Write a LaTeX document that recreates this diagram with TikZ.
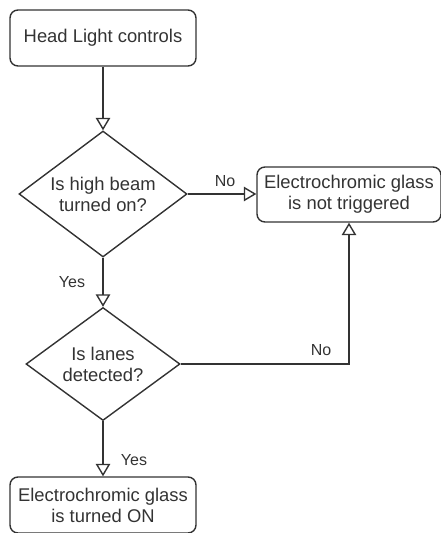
\documentclass[tikz,border=0pt]{standalone}
\usepackage{fontspec}
\setmainfont{Liberation Sans}
\usetikzlibrary{shapes.geometric,arrows.meta}
\definecolor{ink}{HTML}{333333}
\begin{document}
\begin{tikzpicture}[x=1pt,y=-1pt,
  every node/.style={text=ink},
  procbox/.style={draw=ink, line width=1.4pt, rounded corners=8pt, align=center,
     minimum width=186pt, minimum height=56pt, inner sep=0pt,
     font=\fontsize{18.4}{21}\selectfont},
  decbox/.style={draw=ink, line width=1.4pt, diamond, align=center, inner sep=0pt,
     font=\fontsize{18.4}{21}\selectfont},
  lbl/.style={inner sep=0pt, font=\fontsize{16}{18}\selectfont},
  conn/.style={draw=ink, line width=1.4pt, -{Triangle[open, length=12.5pt, width=14.5pt]}}
]
\useasboundingbox (0,0) rectangle (441,533);
\node[procbox] (top) at (103,38) {Head Light controls};
\node[decbox, shape aspect=1.333, minimum width=168pt, minimum height=126pt] (d1) at (103,194) {Is high beam\\turned on?};
\node[procbox, minimum width=184pt, minimum height=55pt] (rb) at (349,194.5) {Electrochromic glass\\is not triggered};
\node[decbox, shape aspect=1.363, minimum width=154pt, minimum height=113pt] (d2) at (103,364) {Is lanes\\detected?};
\node[procbox] (bb) at (103,505) {Electrochromic glass\\is turned ON};
\draw[conn] (top) -- (d1);
\draw[conn] (d1.east) -- (d1.east -| rb.west);
\draw[conn] (d1) -- (d2);
\draw[conn] (d2.east) -| (rb.south);
\draw[conn] (d2) -- (bb);
\node[lbl] (no1) at (225,181) {No};
\node[lbl] (yes1) at (72,282) {Yes};
\node[lbl] (no2) at (321,350) {No};
\node[lbl] (yes2) at (134,460) {Yes};
\end{tikzpicture}
\end{document}
